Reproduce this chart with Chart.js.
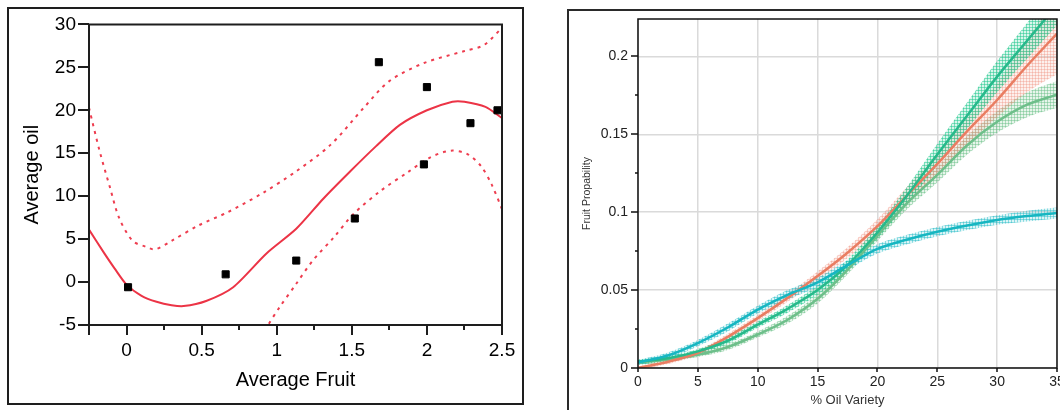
<!DOCTYPE html>
<html>
<head>
<meta charset="utf-8">
<script src="https://cdn.jsdelivr.net/npm/chart.js@4/dist/chart.umd.min.js"></script>
<style>
  html, body { margin: 0; padding: 0; background: #fff; overflow: hidden; }
  body { width: 1060px; height: 410px; position: relative; }
  .frame { position: absolute; box-sizing: border-box; }
  #frameL { left: 7px; top: 7px; width: 517px; height: 398px; border: 2px solid #1e1e1e; }
  #frameR { left: 567px; top: 9px; width: 600px; height: 500px; border-left: 2px solid #2a2a2a; border-top: 2px solid #2a2a2a; }
  canvas { position: absolute; top: 0; }
  #fruitChart { left: 0; }
  #oilChart { left: 570px; }
</style>
</head>
<body>
<div class="frame" id="frameL"></div>
<div class="frame" id="frameR"></div>
<canvas id="fruitChart" width="530" height="410"></canvas>
<canvas id="oilChart" width="540" height="410"></canvas>
<script>
// LEFT CHART DATA (Average Fruit vs Average oil)
const pointX = [0.01, 0.66, 1.13, 1.52, 1.68, 2.0, 1.98, 2.29, 2.47];
const pointY = [-0.6, 0.9, 2.5, 7.4, 25.6, 22.7, 13.7, 18.5, 20.0];

const fitX = [-0.25, -0.15, -0.08, 0.0, 0.1, 0.2, 0.3, 0.38, 0.53, 0.71, 0.93, 1.13, 1.31, 1.49, 1.66, 1.82, 2.0, 2.17, 2.25, 2.39, 2.5];
const fitY = [6.1, 3.4, 1.6, -0.3, -1.6, -2.3, -2.7, -2.8, -2.2, -0.6, 3.3, 6.2, 9.7, 12.9, 15.8, 18.3, 20.0, 21.0, 21.0, 20.4, 19.1];

const upperX = [-0.25, -0.18, -0.11, -0.05, 0.04, 0.13, 0.19, 0.3, 0.48, 0.67, 0.91, 1.13, 1.36, 1.58, 1.75, 1.98, 2.25, 2.38, 2.5];
const upperY = [20.3, 15.3, 11.0, 7.5, 4.8, 4.1, 3.8, 4.8, 6.6, 8.1, 10.4, 12.9, 16.0, 20.3, 23.4, 25.5, 26.9, 27.6, 29.6];

const lowerX = [0.9, 0.943, 1.02, 1.13, 1.24, 1.38, 1.51, 1.69, 1.87, 2.02, 2.16, 2.27, 2.36, 2.43, 2.5];
const lowerY = [-6.5, -5.0, -2.9, -0.2, 2.5, 5.2, 7.9, 10.6, 12.75, 14.5, 15.3, 14.9, 13.5, 11.4, 8.5];

const fruitTicks = [0, 0.5, 1, 1.5, 2, 2.5];
const fruitMinor = [0.25, 0.75, 1.25, 1.75, 2.25];
const oilAvgTicks = [-5, 0, 5, 10, 15, 20, 25, 30];

// RIGHT CHART DATA (% Oil Variety vs Fruit Propability)
const varietyX = [0, 2.5, 5, 7.5, 10, 12.5, 15, 17.5, 20, 22.5, 25, 27.5, 30, 32.5, 35];
const cyanY   = [0.0036, 0.008, 0.016, 0.026, 0.0375, 0.047, 0.055, 0.066, 0.0765, 0.0825, 0.0875, 0.0915, 0.095, 0.0975, 0.0995];
const salmonY = [0.0, 0.004, 0.0098, 0.020, 0.032, 0.045, 0.059, 0.074, 0.091, 0.111, 0.131, 0.152, 0.172, 0.194, 0.2146];
const tealY   = [0.004, 0.0062, 0.0107, 0.0175, 0.0278, 0.038, 0.050, 0.066, 0.087, 0.111, 0.137, 0.162, 0.187, 0.210, 0.233];
const greenY  = [0.0035, 0.0055, 0.0085, 0.0135, 0.0215, 0.031, 0.0444, 0.063, 0.085, 0.106, 0.124, 0.143, 0.158, 0.169, 0.1755];

// band half widths
const cyanBand   = [0.0015, 0.002, 0.002, 0.0025, 0.0025, 0.003, 0.003, 0.003, 0.003, 0.003, 0.003, 0.003, 0.003, 0.0035, 0.0035];
const salmonBand = [0.001, 0.0015, 0.0015, 0.002, 0.002, 0.0025, 0.003, 0.0035, 0.0045, 0.0055, 0.007, 0.0085, 0.011, 0.017, 0.026];
const tealBand   = [0.0015, 0.0015, 0.0015, 0.002, 0.002, 0.0025, 0.003, 0.0035, 0.004, 0.0055, 0.007, 0.0085, 0.010, 0.0115, 0.013];
const greenBand  = [0.0015, 0.0015, 0.0015, 0.002, 0.002, 0.0025, 0.003, 0.003, 0.0035, 0.004, 0.005, 0.006, 0.007, 0.008, 0.0085];

const varietyTicks = [0, 5, 10, 15, 20, 25, 30, 35];
const probTicks = [0, 0.05, 0.1, 0.15, 0.2];
const probMinor = [0.025, 0.075, 0.125, 0.175];

const FONT = "'Liberation Sans', Arial, sans-serif";
const pts = (xs, ys) => xs.map((x, i) => ({ x: x, y: ys[i] }));

// draws tick marks and the box round the plot area
const axisBox = {
  id: 'axisBox',
  afterDraw(chart, args, o) {
    const { ctx, chartArea: a, scales: { x, y } } = chart;
    ctx.save();
    ctx.strokeStyle = o.color;
    ctx.lineWidth = o.width;
    ctx.beginPath();
    o.xMajor.forEach(v => { const p = Math.round(x.getPixelForValue(v)); ctx.moveTo(p, a.bottom); ctx.lineTo(p, a.bottom + o.xMajorLen); });
    o.xMinor.forEach(v => { const p = Math.round(x.getPixelForValue(v)); ctx.moveTo(p, a.bottom); ctx.lineTo(p, a.bottom + o.xMinorLen); });
    o.yMajor.forEach(v => { const p = Math.round(y.getPixelForValue(v)); ctx.moveTo(a.left, p); ctx.lineTo(a.left - o.yMajorLen, p); });
    o.yMinor.forEach(v => { const p = Math.round(y.getPixelForValue(v)); ctx.moveTo(a.left, p); ctx.lineTo(a.left - o.yMinorLen, p); });
    ctx.stroke();
    ctx.beginPath();
    ctx.rect(a.left, a.top, a.right - a.left, a.bottom - a.top);
    ctx.stroke();
    ctx.restore();
  }
};

// LEFT CHART
new Chart(document.getElementById('fruitChart'), {
  type: 'scatter',
  data: {
    datasets: [
      { data: pts(pointX, pointY), pointStyle: 'rect', pointRadius: 5, pointBorderWidth: 1,
        pointBackgroundColor: '#000', pointBorderColor: '#000', showLine: false },
      { data: pts(fitX, fitY), showLine: true, borderColor: '#ec3446', borderWidth: 2,
        pointRadius: 0, tension: 0.25 },
      { data: pts(upperX, upperY), showLine: true, borderColor: '#ee3d4f', borderWidth: 2,
        borderDash: [3, 5], pointRadius: 0, tension: 0.3 },
      { data: pts(lowerX, lowerY), showLine: true, borderColor: '#ee3d4f', borderWidth: 2,
        borderDash: [3, 5], pointRadius: 0, tension: 0.3 }
    ]
  },
  options: {
    responsive: false,
    animation: false,
    layout: { padding: { left: 0, top: 23, right: 28, bottom: 0 } },
    plugins: {
      legend: { display: false },
      tooltip: { enabled: false },
      axisBox: { color: '#1e1e1e', width: 2, xMajor: [-0.25, ...fruitTicks], xMinor: fruitMinor,
                 xMajorLen: 10, xMinorLen: 5, yMajor: oilAvgTicks, yMinor: [], yMajorLen: 11, yMinorLen: 0 }
    },
    scales: {
      x: {
        type: 'linear', min: -0.25, max: 2.5,
        grid: { display: false, drawTicks: false },
        border: { display: false },
        afterBuildTicks: s => { s.ticks = fruitTicks.map(v => ({ value: v })); },
        afterFit: s => { s.height = 85; },
        ticks: { padding: 14, color: '#000', font: { family: FONT, size: 19 }, callback: v => String(v), maxRotation: 0 },
        title: { display: true, text: 'Average Fruit', color: '#000', font: { family: FONT, size: 20 }, padding: { top: 0, bottom: 18 } }
      },
      y: {
        min: -5, max: 30,
        grid: { display: false, drawTicks: false },
        border: { display: false },
        afterBuildTicks: s => { s.ticks = oilAvgTicks.map(v => ({ value: v })); },
        afterFit: s => { s.width = 89; },
        ticks: { padding: 13, color: '#000', font: { family: FONT, size: 19 }, callback: v => String(v) },
        title: { display: true, text: 'Average oil', color: '#000', font: { family: FONT, size: 20 }, padding: { top: 20, bottom: 0 } }
      }
    }
  },
  plugins: [axisBox]
});

// RIGHT CHART
const oilCtx = document.getElementById('oilChart').getContext('2d');
function hatch(bg, line) {
  const c = document.createElement('canvas');
  c.width = 3; c.height = 3;
  const g = c.getContext('2d');
  g.fillStyle = bg; g.fillRect(0, 0, 3, 3);
  g.fillStyle = line; g.fillRect(0, 0, 3, 1); g.fillRect(0, 0, 1, 3);
  return oilCtx.createPattern(c, 'repeat');
}

const series = [
  { y: cyanY,   band: cyanBand,   color: '#16b6c1', bg: 'rgba(40,195,205,0.16)',  line: 'rgba(30,185,195,0.45)' },
  { y: tealY,   band: tealBand,   color: '#27b98b', bg: 'rgba(40,205,150,0.18)',  line: 'rgba(30,200,140,0.5)' },
  { y: salmonY, band: salmonBand, color: '#e97d62', bg: 'rgba(245,160,140,0.16)', line: 'rgba(238,140,120,0.35)' },
  { y: greenY,  band: greenBand,  color: '#6dbf8a', bg: 'rgba(120,200,145,0.18)', line: 'rgba(100,190,130,0.45)' }
];

const oilSets = [];
series.forEach(s => {
  oilSets.push({ data: pts(varietyX, s.y), showLine: true, borderColor: s.color, borderWidth: 2.5,
                 pointRadius: 0, cubicInterpolationMode: 'monotone', order: 0 });
});
series.forEach(s => {
  const lowIdx = oilSets.length;
  oilSets.push({ data: pts(varietyX, s.y.map((v, i) => v - s.band[i])), showLine: true, borderWidth: 0,
                 pointRadius: 0, cubicInterpolationMode: 'monotone', fill: false, order: 1 });
  oilSets.push({ data: pts(varietyX, s.y.map((v, i) => v + s.band[i])), showLine: true, borderWidth: 0,
                 pointRadius: 0, cubicInterpolationMode: 'monotone', fill: lowIdx,
                 backgroundColor: hatch(s.bg, s.line), order: 1 });
});

new Chart(oilCtx, {
  type: 'scatter',
  data: { datasets: oilSets },
  options: {
    responsive: false,
    animation: false,
    layout: { padding: { left: 0, top: 19, right: 53, bottom: 0 } },
    plugins: {
      legend: { display: false },
      tooltip: { enabled: false },
      axisBox: { color: '#111', width: 1.5, xMajor: varietyTicks, xMinor: [], xMajorLen: 4, xMinorLen: 0,
                 yMajor: probTicks, yMinor: probMinor, yMajorLen: 7, yMinorLen: 3 }
    },
    scales: {
      x: {
        type: 'linear', min: 0, max: 35,
        grid: { color: '#dadada', lineWidth: 1.5, drawTicks: false },
        border: { display: false },
        afterBuildTicks: s => { s.ticks = varietyTicks.map(v => ({ value: v })); },
        afterFit: s => { s.height = 42; },
        ticks: { padding: 6, color: '#222', font: { family: FONT, size: 14 }, callback: v => String(v), maxRotation: 0 },
        title: { display: true, text: '% Oil Variety', color: '#333', font: { family: FONT, size: 13 }, padding: { top: 0, bottom: 2 } }
      },
      y: {
        min: 0, max: 0.224,
        grid: { color: '#dadada', lineWidth: 1.5, drawTicks: false },
        border: { display: false },
        afterBuildTicks: s => { s.ticks = probTicks.map(v => ({ value: v })); },
        afterFit: s => { s.width = 68; },
        ticks: { padding: 10, color: '#222', font: { family: FONT, size: 14 }, callback: v => String(v) },
        title: { display: true, text: 'Fruit Propability', color: '#333',
                 font: { family: FONT, size: 10.5 }, padding: { top: 10.5, bottom: 0 } }
      }
    }
  },
  plugins: [axisBox]
});
</script>
</body>
</html>
